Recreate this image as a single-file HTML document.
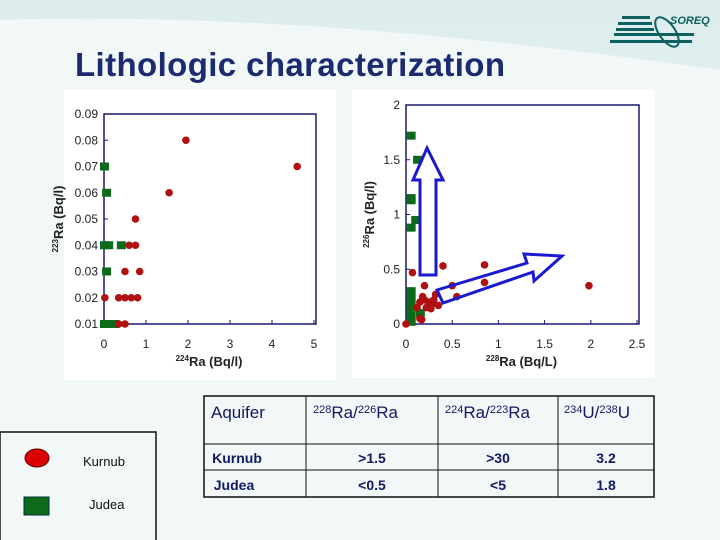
<!DOCTYPE html>
<html><head><meta charset="utf-8"><style>
body{margin:0;width:720px;height:540px;overflow:hidden;font-family:"Liberation Sans",sans-serif;}
#bg{position:absolute;left:0;top:0;width:720px;height:540px;background:linear-gradient(180deg,#dcecec 0%,#e8f2f2 40%,#eef5f6 100%);}
</style></head><body>
<div id="bg"></div>
<svg id="s" width="720" height="540" style="position:absolute;left:0;top:0">
<path d="M0,20 Q300,10 720,70 L720,540 L0,540 Z" fill="#f2f7f8"/>
<g>
<rect x="622" y="16" width="28" height="3" fill="#0f6060"/><rect x="618" y="22" width="34" height="3" fill="#0f6060"/>
<rect x="616" y="28" width="38" height="3" fill="#0f6060"/><rect x="614" y="33" width="80" height="3" fill="#0f6060"/>
<rect x="610" y="40" width="82" height="3" fill="#0f6060"/>
<ellipse cx="667" cy="32" rx="8" ry="17" transform="rotate(-35 667 32)" fill="none" stroke="#0f6060" stroke-width="2"/>
<text x="670" y="24" font-size="11" font-weight="bold" font-style="italic" fill="#0f6060">SOREQ</text>
</g>
<text x="75" y="76" font-size="33" font-weight="bold" fill="#1c2a70" textLength="430">Lithologic characterization</text>
<rect x="64" y="90" width="272" height="290" fill="#fff"/>
<rect x="352" y="90" width="303" height="288" fill="#fff"/>
<g id="L"></g>
<g id="R"></g>
<polygon points="420,275 436,275 436,180 443,180 427,148 413,180 420,180" fill="none" stroke="#1a1ad0" stroke-width="3"/>
<polygon points="437,290 527,263 524,254 562,256 534,281 533,272 443,303" fill="none" stroke="#1a1ad0" stroke-width="3"/>
<g>
<rect x="0" y="432" width="156" height="115" fill="none" stroke="#111" stroke-width="1.5"/>
<ellipse cx="37" cy="458" rx="12" ry="9" fill="#d00" stroke="#600"/>
<text x="83" y="466" font-size="13" fill="#111">Kurnub</text>
<rect x="24" y="497" width="25" height="18" fill="#0d6a1a" stroke="#033"/>
<text x="89" y="509" font-size="13" fill="#111">Judea</text>
</g>
<g fill="#101a60">
<rect x="204" y="396" width="450" height="101" fill="none" stroke="#111" stroke-width="1.5"/>
<line x1="306" y1="396" x2="306" y2="497" stroke="#111"/><line x1="438" y1="396" x2="438" y2="497" stroke="#111"/><line x1="558" y1="396" x2="558" y2="497" stroke="#111"/>
<line x1="204" y1="444" x2="654" y2="444" stroke="#111"/><line x1="204" y1="470" x2="654" y2="470" stroke="#111"/>
<text x="211" y="418" font-size="17">Aquifer</text>
<text x="313" y="418" font-size="17"><tspan font-size="11" dy="-5">228</tspan><tspan dy="5">Ra/</tspan><tspan font-size="11" dy="-5">226</tspan><tspan dy="5">Ra</tspan></text>
<text x="445" y="418" font-size="17"><tspan font-size="11" dy="-5">224</tspan><tspan dy="5">Ra/</tspan><tspan font-size="11" dy="-5">223</tspan><tspan dy="5">Ra</tspan></text>
<text x="564" y="418" font-size="17"><tspan font-size="11" dy="-5">234</tspan><tspan dy="5">U/</tspan><tspan font-size="11" dy="-5">238</tspan><tspan dy="5">U</tspan></text>
<g font-size="14" font-weight="bold" text-anchor="middle">
<text x="237" y="463">Kurnub</text><text x="372" y="463">&gt;1.5</text><text x="498" y="463">&gt;30</text><text x="606" y="463">3.2</text>
<text x="234" y="490">Judea</text><text x="372" y="490">&lt;0.5</text><text x="498" y="490">&lt;5</text><text x="606" y="490">1.8</text>
</g></g>
</svg>
<script>
const NS='http://www.w3.org/2000/svg';
// Left chart data
const leftXTicks=[0,1,2,3,4,5];
const leftYTicks=[0.01,0.02,0.03,0.04,0.05,0.06,0.07,0.08,0.09];
const leftKurnubX=[1.95,4.6,1.55,0.75,0.6,0.75,0.5,0.85,0.02,0.35,0.5,0.65,0.8,0.35,0.5];
const leftKurnubY=[0.08,0.07,0.06,0.05,0.04,0.04,0.03,0.03,0.02,0.02,0.02,0.02,0.02,0.01,0.01];
const leftJudeaX=[0,0.05,0,0.1,0.4,0.05,0,0.1,0.2,0.25];
const leftJudeaY=[0.07,0.06,0.04,0.04,0.04,0.03,0.01,0.01,0.01,0.01];
// Right chart data
const rightXTicks=[0,0.5,1,1.5,2,2.5];
const rightXLabels=['0','0.5','1','1.5','2','2.5'];
const rightYTicks=[0,0.5,1,1.5,2];
const rightKurnubX=[0,0.07,0.2,0.4,0.85,0.85,0.55,0.5,1.98,0.12,0.15,0.18,0.2,0.25,0.22,0.28,0.3,0.32,0.35,0.17,0.27,0.15];
const rightKurnubY=[0,0.47,0.35,0.53,0.54,0.38,0.25,0.35,0.35,0.15,0.2,0.25,0.22,0.2,0.15,0.18,0.22,0.27,0.17,0.04,0.14,0.05];
const rightJudeaX=[0.05,0.12,0.05,0.05,0.1,0.05,0.05,0.05,0.05,0.05,0.05,0.05,0.05,0.15];
const rightJudeaY=[1.72,1.5,1.15,1.13,0.95,0.88,0.3,0.25,0.2,0.15,0.1,0.05,0.02,0.1];

function el(p,t,a){const e=document.createElementNS(NS,t);for(const k in a)e.setAttribute(k,a[k]);p.appendChild(e);return e;}
function chart(g,x0,x1,xmin,xmax,yTop,yBot,ymin,ymax,xt,xl,yt,yl,kx,ky,jx,jy,xlab,ylab,xsup,ysup,ylabx){
  const sx=v=>x0+(v-xmin)/(xmax-xmin)*(x1-x0);
  const sy=v=>yBot-(v-ymin)/(ymax-ymin)*(yBot-yTop);
  const r=el(g,'rect',{x:x0,y:yTop,width:x1-x0+2,height:yBot-yTop,fill:'none',stroke:'#1a1a6e','stroke-width':1.5});
  
  
  xt.forEach((v,i)=>{const t=el(g,'text',{x:sx(v),y:yBot+24,'font-size':12,'text-anchor':'middle',fill:'#222'});t.textContent=xl[i];
    
    
    el(g,'line',{x1:sx(v),x2:sx(v),y1:yBot,y2:yBot-4,stroke:'#1a1a6e'});});
  yt.forEach((v,i)=>{const t=el(g,'text',{x:x0-6,y:sy(v)+4,'font-size':12,'text-anchor':'end',fill:'#222'});t.textContent=yl[i];
    
    
    el(g,'line',{x1:x0,x2:x0+4,y1:sy(v),y2:sy(v),stroke:'#1a1a6e'});});
  jx.forEach((v,i)=>{const m=el(g,'rect',{x:sx(v)-4,y:sy(jy[i])-4,width:9,height:8,fill:'#0d6a1a'});
    
    });
  kx.forEach((v,i)=>{const m=el(g,'circle',{cx:sx(v),cy:sy(ky[i]),r:3.8,fill:'#b01010'});
    
    });
  const xa=el(g,'text',{x:(x0+x1)/2,y:yBot+42,'font-size':13,'font-weight':'bold','text-anchor':'middle',fill:'#222'});
  xa.innerHTML='<tspan font-size="8" dy="-5">'+xsup+'</tspan><tspan dy="5">'+xlab+'</tspan>';
  
  
  const ya=el(g,'text',{x:ylabx,y:(yTop+yBot)/2,'font-size':13,'font-weight':'bold','text-anchor':'middle',fill:'#222',transform:'rotate(-90 '+ylabx+' '+(yTop+yBot)/2+')'});
  ya.innerHTML='<tspan font-size="8" dy="-5">'+ysup+'</tspan><tspan dy="5">'+ylab+'</tspan>';
  
  
}
chart(document.getElementById('L'),104,314,0,5,114,324,0.01,0.09,leftXTicks,leftXTicks.map(String),leftYTicks,leftYTicks.map(v=>v.toFixed(2)),leftKurnubX,leftKurnubY,leftJudeaX,leftJudeaY,'Ra (Bq/l)','Ra (Bq/l)','224','223',63);
chart(document.getElementById('R'),406,637,0,2.5,105,324,0,2,rightXTicks,rightXLabels,rightYTicks,rightYTicks.map(String),rightKurnubX,rightKurnubY,rightJudeaX,rightJudeaY,'Ra (Bq/L)','Ra (Bq/l)','228','226',374);
</script>
</body></html>
